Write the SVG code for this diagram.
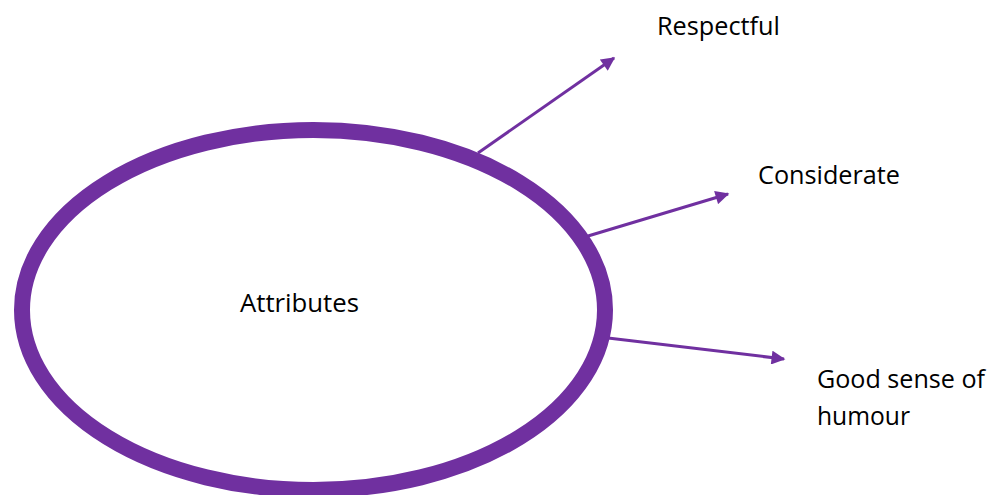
<svg xmlns="http://www.w3.org/2000/svg" width="1005" height="495" viewBox="0 0 1005 495">
<defs>
<style>
.lbl{font-family:"Open Sans","Liberation Sans",sans-serif;font-size:25px;fill:#000}
.conn{stroke:#7030A0;stroke-width:3;fill:none}
</style>
<marker id="ah" viewBox="0 0 10 10" refX="9" refY="5" markerWidth="5" markerHeight="4.6" markerUnits="strokeWidth" orient="auto">
<path d="M0,0 L10,5 L0,10 Z" fill="#7030A0"/>
</marker>
</defs>
<rect width="1005" height="495" fill="#fff"/>
<g id="attributes">
<ellipse cx="313.5" cy="310" rx="291.5" ry="180" fill="#fff" stroke="#7030A0" stroke-width="16"/>
<text class="lbl" x="240" y="312" textLength="119" lengthAdjust="spacingAndGlyphs">Attributes</text>
</g>
<g id="connectors">
<line class="conn" x1="478" y1="153" x2="614" y2="58" marker-end="url(#ah)"/>
<line class="conn" x1="588" y1="236" x2="728" y2="194" marker-end="url(#ah)"/>
<line class="conn" x1="608" y1="338" x2="784" y2="359" marker-end="url(#ah)"/>
</g>
<g id="respectful">
<text class="lbl" x="657" y="35" textLength="123" lengthAdjust="spacingAndGlyphs">Respectful</text>
</g>
<g id="considerate">
<text class="lbl" x="758" y="184" textLength="142" lengthAdjust="spacingAndGlyphs">Considerate</text>
</g>
<g id="humour">
<text class="lbl" x="817" y="388" textLength="168" lengthAdjust="spacingAndGlyphs">Good sense of</text>
<text class="lbl" x="817" y="425" textLength="93" lengthAdjust="spacingAndGlyphs">humour</text>
</g>
</svg>
